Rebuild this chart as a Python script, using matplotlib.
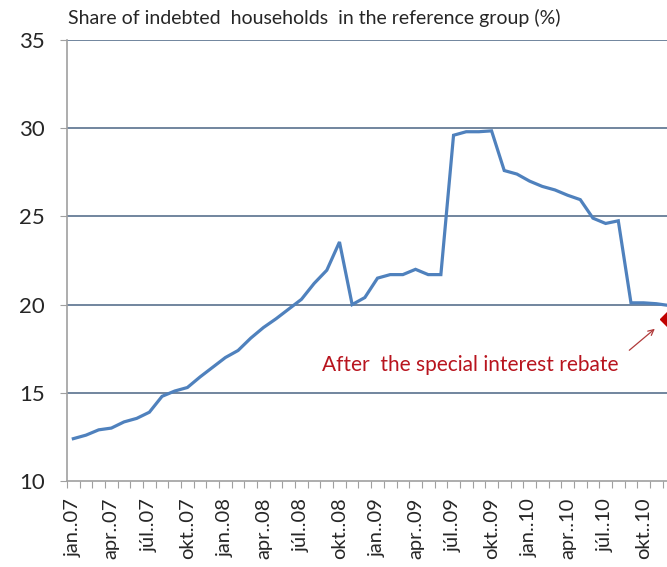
import numpy as np
import matplotlib
matplotlib.use('Agg')
import matplotlib.pyplot as plt
from matplotlib.ticker import FixedLocator, NullFormatter

plt.rcParams['font.family'] = ['Lato', 'DejaVu Sans']

# monthly share of indebted households, jan 2007 onwards
share = [12.4, 12.6, 12.9, 13.0, 13.35, 13.55, 13.9, 14.8, 15.1, 15.3, 15.9, 16.45,
         17.0, 17.4, 18.1, 18.7, 19.2, 19.75, 20.3, 21.2, 21.95, 23.55, 20.0, 20.4,
         21.5, 21.7, 21.7, 22.0, 21.7, 21.7, 29.6, 29.8, 29.8, 29.85, 27.6, 27.4,
         27.0, 26.7, 26.5, 26.2, 25.95, 24.9, 24.6, 24.75, 20.1, 20.1, 20.05, 19.95]
months = ['jan', 'feb', 'mar', 'apr', 'maí', 'jún', 'júl', 'ágú', 'sep', 'okt', 'nóv', 'des']
years = ['07', '08', '09', '10']
labels = [m + '..' + y for y in years for m in months]

# value after the special interest rebate
rebate_idx = 47
rebate_val = 19.2

blue = '#4F81BD'
red = '#C00000'
grid_col = '#4A6584'
axis_col = '#A0A0A0'

fig = plt.figure(figsize=(6.67, 5.67), dpi=100)
ax = fig.add_axes([67/667, 86/567, 1 - 67/667, 441/567])

x = np.arange(len(share))
ax.plot(x, share, color=blue, lw=2.3, solid_joinstyle='miter', zorder=3)
ax.plot(rebate_idx, rebate_val, marker='D', ms=9, color=red, zorder=4)

ax.set_ylim(10, 35)
ax.set_xlim(-0.5, (667 - 73.5) / 12.67)
ax.set_yticks([10, 15, 20, 25, 30, 35])
ax.tick_params(axis='y', labelsize=16, length=5, color=axis_col, pad=11,
               labelcolor='#262626')
for yv in [15, 20, 25, 30, 35]:
    ax.axhline(yv, color=grid_col, lw=1.1, zorder=1)

# month boundaries carry the tick marks, every third month gets a label
ax.xaxis.set_major_locator(FixedLocator(np.arange(-0.5, len(share) + 1, 1)))
ax.xaxis.set_major_formatter(NullFormatter())
lab_pos = list(range(0, len(share), 3))
ax.xaxis.set_minor_locator(FixedLocator(lab_pos))
ax.set_xticklabels([labels[i] for i in lab_pos], minor=True, rotation=90, fontsize=14.5)
ax.tick_params(axis='x', which='major', length=5, color=axis_col)
ax.tick_params(axis='x', which='minor', length=0, pad=12, labelcolor='#262626')

for s in ['top', 'right']:
    ax.spines[s].set_visible(False)
for s in ['left', 'bottom']:
    ax.spines[s].set_color(axis_col)
    ax.spines[s].set_linewidth(1.2)

ax.text(19.6, 16.58, 'After  the special interest rebate', color='#B8141E',
        fontsize=15, ha='left', va='center')
ax.annotate('', xy=(46.05, 18.73), xytext=(43.7, 17.31),
            arrowprops=dict(arrowstyle='->', color='#B03A3A', lw=0.9))

fig.text(68/667, 1 - 18/567, 'Share of indebted  households  in the reference group (%)',
         fontsize=14, ha='left', va='center', color='#262626')

fig.savefig('out.png', dpi=100)
